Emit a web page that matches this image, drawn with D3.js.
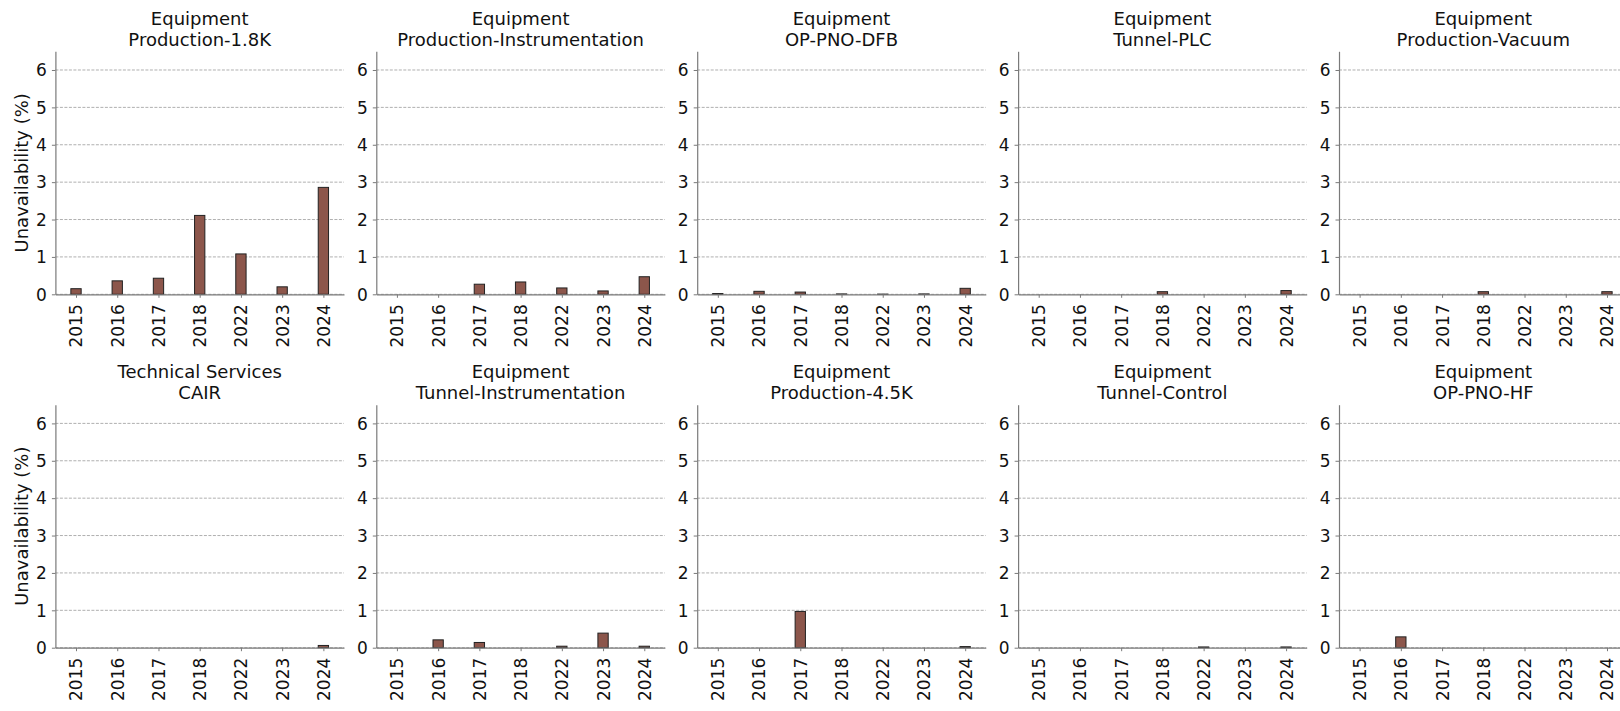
<!DOCTYPE html>
<html>
<head>
<meta charset="utf-8">
<script src="https://cdn.jsdelivr.net/npm/d3@7"></script>
<style>
  html, body { margin: 0; padding: 0; background: #fff; }
  svg { display: block; font-family: "DejaVu Sans", sans-serif; }
</style>
</head>
<body>
<div id="chart"></div>
<script>
// ─── Data ────────────────────────────────────────────────────
const years = ["2015", "2016", "2017", "2018", "2022", "2023", "2024"];
const groups = [
  "Equipment", "Equipment", "Equipment", "Equipment", "Equipment",
  "Technical Services", "Equipment", "Equipment", "Equipment", "Equipment"
];
const systems = [
  "Production-1.8K", "Production-Instrumentation", "OP-PNO-DFB", "Tunnel-PLC", "Production-Vacuum",
  "CAIR", "Tunnel-Instrumentation", "Production-4.5K", "Tunnel-Control", "OP-PNO-HF"
];
const unavailability = [
  [0.15, 0.36, 0.43, 2.11, 1.08, 0.20, 2.86],
  [0.00, 0.00, 0.27, 0.33, 0.17, 0.09, 0.47],
  [0.02, 0.08, 0.06, 0.01, 0.005, 0.01, 0.16],
  [0.00, 0.00, 0.00, 0.07, 0.00, 0.00, 0.10],
  [0.00, 0.00, 0.00, 0.07, 0.00, 0.00, 0.07],
  [0.00, 0.00, 0.00, 0.00, 0.00, 0.00, 0.06],
  [0.00, 0.21, 0.14, 0.00, 0.04, 0.39, 0.04],
  [0.00, 0.00, 0.97, 0.00, 0.00, 0.00, 0.03],
  [0.00, 0.00, 0.00, 0.00, 0.02, 0.00, 0.02],
  [0.00, 0.29, 0.00, 0.00, 0.00, 0.00, 0.00]
];
const yTicks = [0, 1, 2, 3, 4, 5, 6];

// ─── Layout ──────────────────────────────────────────────────
const fullW = 1620, fullH = 711;
const cols = 5;
const panelW = 288.6, panelH = 243;
const colStep = 320.9, rowStep = 353.4;
const left0 = 55.4, top0 = 51.3;

const svg = d3.select("#chart").append("svg")
  .attr("width", fullW)
  .attr("height", fullH);

const y = d3.scaleLinear().domain([0, 6.5]).range([panelH, 0]);
const x = d3.scalePoint().domain(years).range([0, panelW]).padding(0.5);
const barW = x.step() * 0.25;

systems.forEach((sys, i) => {
  const col = i % cols, row = Math.floor(i / cols);
  const g = svg.append("g")
    .attr("transform", `translate(${left0 + col * colStep},${top0 + row * rowStep})`);

  // grid
  g.append("g")
    .selectAll("line")
    .data(yTicks)
    .join("line")
    .attr("x1", 0).attr("x2", panelW)
    .attr("y1", d => y(d)).attr("y2", d => y(d))
    .attr("stroke", "#9a9a9a")
    .attr("stroke-width", 0.8)
    .attr("stroke-dasharray", "3,1.5");

  // bars
  g.append("g")
    .selectAll("rect")
    .data(unavailability[i].map((v, k) => ({ year: years[k], v })))
    .join("rect")
    .attr("x", d => x(d.year) - barW / 2)
    .attr("y", d => y(d.v))
    .attr("width", barW)
    .attr("height", d => panelH - y(d.v))
    .attr("fill", "#8c564b")
    .attr("stroke", "#222")
    .attr("stroke-width", 1);

  // y axis
  const ya = g.append("g")
    .call(d3.axisLeft(y).tickValues(yTicks).tickFormat(d3.format("d"))
      .tickSize(3.5).tickPadding(5).tickSizeOuter(0));
  ya.select(".domain").attr("stroke", "#7a7a7a").attr("stroke-width", 1.2);
  ya.selectAll(".tick line").attr("stroke", "#7a7a7a");
  ya.selectAll(".tick text")
    .attr("font-size", "17px")
    .attr("fill", "#111")
    .attr("font-family", "DejaVu Sans")
    .attr("dy", "0.34em");

  // x axis
  const xa = g.append("g")
    .attr("transform", `translate(0,${panelH})`)
    .call(d3.axisBottom(x).tickSize(3.5).tickSizeOuter(0));
  xa.select(".domain").attr("stroke", "#7a7a7a").attr("stroke-width", 1.2);
  xa.selectAll(".tick line").attr("stroke", "#7a7a7a");
  xa.selectAll(".tick text")
    .attr("font-size", "17px")
    .attr("fill", "#111")
    .attr("font-family", "DejaVu Sans")
    .attr("transform", "rotate(-90)")
    .attr("text-anchor", "end")
    .attr("x", -10)
    .attr("y", 0)
    .attr("dy", "0.35em");

  // title
  const t = g.append("text")
    .attr("text-anchor", "middle")
    .attr("font-size", "18px")
    .attr("font-family", "DejaVu Sans")
    .attr("fill", "#111");
  t.append("tspan").attr("x", panelW / 2).attr("y", -26.5).text(groups[i]);
  t.append("tspan").attr("x", panelW / 2).attr("y", -5.6).text(sys);

  // y label on first column
  if (col === 0) {
    g.append("text")
      .attr("transform", `translate(${28 - left0},${panelH / 2}) rotate(-90)`)
      .attr("text-anchor", "middle")
      .attr("font-size", "18px")
      .attr("font-family", "DejaVu Sans")
      .attr("fill", "#111")
      .text("Unavailability (%)");
  }
});
</script>
</body>
</html>
